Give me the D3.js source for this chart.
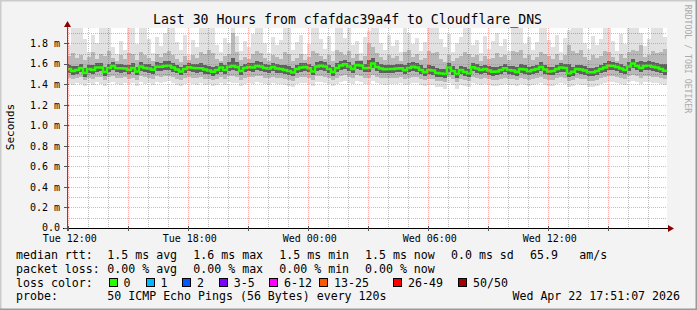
<!DOCTYPE html>
<html><head><meta charset="utf-8">
<script src="https://cdn.jsdelivr.net/npm/d3@7"></script>
<style>
body{margin:0;background:#f3f3f3}
svg{display:block}
text{font-family:"DejaVu Sans Mono",monospace;fill:#000}
</style>
</head><body>
<svg id="c" width="697" height="310"></svg>
<script>
// ---------------- data ----------------
const titleText = "Last 30 Hours from cfafdac39a4f to Cloudflare_DNS";
const yAxisTitle = "Seconds";
const watermark = "RRDTOOL / TOBI OETIKER";
const startTime = new Date(2026, 3, 21, 11, 56, 6);
const endTime = new Date(2026, 3, 22, 17, 56, 6);
const stepMinutes = 12;

const yTickValues = [0, 0.2, 0.4, 0.6, 0.8, 1.0, 1.2, 1.4, 1.6, 1.8];
const yTickLabels = ["0.0", "0.2 m", "0.4 m", "0.6 m", "0.8 m", "1.0 m", "1.2 m", "1.4 m", "1.6 m", "1.8 m"];

// median rtt (ms), one value per 12-minute step
const medianMs = [
1.550,1.531,1.541,1.560,1.511,1.550,1.541,1.565,1.565,1.521,
1.560,1.580,1.557,1.557,1.555,1.541,1.560,1.526,1.575,1.560,
1.555,1.543,1.573,1.573,1.580,1.582,1.565,1.545,1.526,1.550,
1.567,1.560,1.557,1.557,1.545,1.536,1.524,1.541,1.565,1.541,
1.573,1.580,1.570,1.531,1.560,1.570,1.565,1.580,1.575,1.560,
1.555,1.570,1.555,1.550,1.541,1.531,1.516,1.550,1.565,1.570,
1.557,1.526,1.575,1.582,1.575,1.550,1.521,1.560,1.584,1.596,
1.575,1.550,1.589,1.584,1.557,1.560,1.604,1.570,1.555,1.547,
1.550,1.550,1.555,1.557,1.538,1.560,1.573,1.565,1.541,1.518,
1.541,1.536,1.511,1.506,1.502,1.565,1.531,1.502,1.541,1.521,
1.506,1.567,1.555,1.541,1.550,1.536,1.524,1.526,1.541,1.557,
1.541,1.536,1.521,1.550,1.545,1.528,1.541,1.550,1.570,1.545,
1.526,1.531,1.550,1.565,1.560,1.506,1.524,1.550,1.545,1.536,
1.518,1.518,1.531,1.550,1.565,1.582,1.580,1.570,1.555,1.541,
1.575,1.604,1.580,1.560,1.580,1.582,1.573,1.565,1.550,1.534];

// smoke: ping distribution per step (ms)
const smokeMax = [
1.78,2.0,1.97,2.0,1.84,1.72,1.88,1.80,2.0,1.96,2.0,1.76,1.70,1.82,1.74,2.0,1.98,1.79,2.0,1.96,
1.84,1.71,1.86,1.77,1.90,2.0,1.97,1.81,1.74,1.88,1.69,1.83,1.76,2.0,1.96,2.0,1.98,1.78,1.72,1.85,
1.80,2.0,1.87,1.73,1.82,1.76,1.89,2.0,1.97,1.80,1.71,1.86,1.78,1.83,2.0,1.96,1.74,1.81,1.88,1.70,
1.79,2.0,1.98,1.84,1.75,1.87,1.73,2.0,1.97,1.85,2.0,1.78,1.82,1.71,1.86,1.92,2.0,1.98,1.80,1.74,
1.88,1.77,1.83,1.72,2.0,1.90,1.79,1.85,1.73,1.81,2.0,1.97,2.0,1.84,1.76,1.89,1.72,1.80,1.86,2.0,
1.96,1.78,1.83,1.71,1.87,1.75,1.82,1.90,1.77,1.84,1.73,2.0,1.98,2.0,1.79,1.86,1.74,1.81,2.0,1.97,
1.83,1.76,1.88,1.72,1.85,1.93,2.0,1.97,2.0,1.80,1.75,1.87,1.78,1.84,2.0,1.96,1.82,1.73,1.89,1.79,
2.0,1.98,2.0,1.90,1.77,1.84,2.0,1.97,1.99,1.86];
const smokeP90 = [
1.68,1.71,1.66,1.69,1.64,1.67,1.72,1.65,1.70,1.68,1.73,1.66,1.63,1.69,1.65,1.71,1.70,1.64,1.72,1.69,
1.66,1.63,1.70,1.67,1.71,1.73,1.69,1.65,1.62,1.68,1.64,1.69,1.66,1.72,1.70,1.74,1.71,1.65,1.63,1.68,
1.70,1.90,1.72,1.64,1.67,1.65,1.70,1.73,1.71,1.66,1.63,1.69,1.67,1.65,1.72,1.70,1.63,1.66,1.70,1.64,
1.67,1.73,1.71,1.68,1.65,1.69,1.63,1.74,1.72,1.69,1.73,1.66,1.70,1.64,1.68,1.80,1.76,1.71,1.67,1.64,
1.69,1.66,1.68,1.63,1.72,1.74,1.67,1.70,1.64,1.66,1.73,1.71,1.72,1.65,1.62,1.69,1.63,1.66,1.68,1.72,
1.70,1.67,1.69,1.63,1.68,1.65,1.66,1.71,1.67,1.69,1.64,1.73,1.72,1.74,1.66,1.69,1.64,1.67,1.72,1.70,
1.68,1.65,1.70,1.64,1.69,1.78,1.73,1.71,1.74,1.67,1.64,1.69,1.66,1.68,1.73,1.72,1.67,1.63,1.70,1.66,
1.72,1.74,1.73,1.78,1.67,1.69,1.73,1.71,1.72,1.75];
const smokeP75 = [
1.59,1.58,1.58,1.60,1.56,1.59,1.59,1.61,1.61,1.57,1.60,1.62,1.60,1.60,1.59,1.59,1.61,1.57,1.62,1.60,
1.60,1.58,1.62,1.61,1.63,1.63,1.61,1.59,1.57,1.59,1.61,1.60,1.60,1.61,1.59,1.58,1.57,1.58,1.61,1.59,
1.62,1.66,1.62,1.58,1.60,1.61,1.61,1.63,1.62,1.60,1.59,1.61,1.60,1.59,1.59,1.58,1.56,1.59,1.61,1.61,
1.60,1.58,1.62,1.63,1.62,1.59,1.57,1.61,1.63,1.64,1.62,1.59,1.63,1.63,1.60,1.64,1.66,1.62,1.60,1.59,
1.59,1.59,1.60,1.60,1.59,1.61,1.62,1.61,1.59,1.56,1.59,1.58,1.56,1.55,1.55,1.61,1.58,1.55,1.58,1.57,
1.55,1.61,1.60,1.58,1.59,1.58,1.57,1.57,1.58,1.60,1.58,1.58,1.57,1.60,1.59,1.57,1.58,1.59,1.62,1.59,
1.57,1.57,1.59,1.61,1.60,1.60,1.57,1.59,1.59,1.58,1.56,1.56,1.57,1.59,1.61,1.63,1.62,1.61,1.60,1.58,
1.62,1.65,1.62,1.63,1.62,1.63,1.62,1.61,1.60,1.60];
const smokeP25 = [
1.51,1.49,1.50,1.52,1.47,1.51,1.50,1.52,1.53,1.48,1.52,1.54,1.52,1.51,1.52,1.50,1.52,1.49,1.53,1.52,
1.51,1.50,1.53,1.53,1.54,1.54,1.52,1.51,1.49,1.51,1.53,1.52,1.51,1.52,1.50,1.50,1.48,1.50,1.52,1.50,
1.53,1.54,1.53,1.49,1.52,1.53,1.52,1.54,1.53,1.52,1.51,1.53,1.51,1.51,1.50,1.49,1.48,1.51,1.52,1.53,
1.52,1.49,1.53,1.54,1.53,1.51,1.48,1.52,1.54,1.55,1.53,1.51,1.55,1.54,1.52,1.52,1.56,1.53,1.51,1.51,
1.51,1.51,1.52,1.52,1.50,1.52,1.53,1.52,1.50,1.48,1.50,1.49,1.47,1.47,1.46,1.52,1.49,1.46,1.50,1.48,
1.47,1.53,1.51,1.50,1.51,1.49,1.48,1.49,1.50,1.52,1.50,1.49,1.48,1.51,1.50,1.49,1.50,1.51,1.53,1.50,
1.49,1.49,1.51,1.52,1.52,1.47,1.48,1.51,1.50,1.49,1.48,1.48,1.49,1.51,1.52,1.54,1.54,1.53,1.51,1.50,
1.53,1.56,1.54,1.52,1.54,1.54,1.53,1.52,1.51,1.49];
const smokeP10 = [
1.46,1.45,1.46,1.47,1.44,1.46,1.45,1.47,1.47,1.44,1.47,1.48,1.46,1.46,1.47,1.45,1.46,1.44,1.48,1.47,
1.46,1.45,1.48,1.47,1.48,1.48,1.47,1.45,1.44,1.46,1.47,1.46,1.46,1.47,1.45,1.45,1.44,1.45,1.47,1.45,
1.48,1.48,1.47,1.44,1.46,1.47,1.47,1.48,1.48,1.46,1.46,1.47,1.46,1.46,1.45,1.44,1.43,1.46,1.47,1.47,
1.46,1.44,1.48,1.48,1.47,1.46,1.44,1.46,1.48,1.49,1.47,1.46,1.49,1.48,1.46,1.46,1.49,1.47,1.46,1.46,
1.46,1.46,1.46,1.47,1.45,1.46,1.47,1.47,1.45,1.44,1.45,1.45,1.43,1.43,1.42,1.47,1.45,1.42,1.45,1.44,
1.43,1.47,1.46,1.45,1.46,1.45,1.44,1.44,1.45,1.46,1.45,1.45,1.44,1.46,1.45,1.44,1.45,1.46,1.47,1.45,
1.44,1.44,1.46,1.47,1.46,1.43,1.44,1.46,1.45,1.45,1.43,1.43,1.44,1.46,1.47,1.48,1.48,1.47,1.46,1.45,
1.48,1.49,1.48,1.46,1.48,1.48,1.47,1.47,1.46,1.45];
const smokeMin = [
1.40,1.39,1.41,1.40,1.38,1.41,1.39,1.42,1.40,1.38,1.41,1.42,1.40,1.39,1.41,1.40,1.41,1.38,1.42,1.40,
1.41,1.39,1.42,1.41,1.42,1.43,1.41,1.39,1.38,1.40,1.41,1.40,1.39,1.41,1.39,1.40,1.38,1.39,1.41,1.39,
1.42,1.41,1.41,1.38,1.40,1.41,1.40,1.42,1.41,1.40,1.39,1.41,1.40,1.40,1.39,1.38,1.37,1.40,1.41,1.41,
1.40,1.38,1.42,1.42,1.41,1.40,1.38,1.40,1.42,1.43,1.41,1.40,1.43,1.42,1.40,1.40,1.43,1.41,1.40,1.39,
1.40,1.40,1.40,1.41,1.39,1.40,1.41,1.41,1.39,1.38,1.39,1.39,1.37,1.37,1.36,1.41,1.39,1.36,1.39,1.38,
1.37,1.41,1.40,1.39,1.40,1.39,1.38,1.38,1.39,1.40,1.39,1.39,1.38,1.40,1.39,1.38,1.39,1.40,1.41,1.39,
1.38,1.38,1.40,1.41,1.40,1.37,1.38,1.40,1.39,1.39,1.37,1.37,1.38,1.40,1.41,1.42,1.42,1.41,1.40,1.39,
1.42,1.43,1.42,1.40,1.42,1.42,1.41,1.41,1.40,1.39];

// legend
const rttLabel = "median rtt:";
const rttStats = ["1.5 ms avg", "1.6 ms max", "1.5 ms min", "1.5 ms now", "0.0 ms sd", "65.9", "am/s"];
const lossLabel = "packet loss:";
const lossStats = ["0.00 % avg", "0.00 % max", "0.00 % min", "0.00 % now"];
const lossColorLabel = "loss color:";
const lossColorNames = ["0", "1", "2", "3-5", "6-12", "13-25", "26-49", "50/50"];
const lossColors = ["#26ff00", "#00b8ff", "#0059ff", "#7e00ff", "#ff00ff", "#ff5500", "#ff0000", "#a00000"];
const probeLabel = "probe:";
const probeText = "50 ICMP Echo Pings (56 Bytes) every 120s";
const dateText = "Wed Apr 22 17:51:07 2026";

// ---------------- drawing ----------------
const svg = d3.select("#c");
const W = 697, H = 310;
const L = 67, R = 667, T = 28, B = 228;

svg.append("rect").attr("width", W).attr("height", H).attr("fill", "#f3f3f3");
// 3D frame
svg.append("path").attr("d", `M0,${H} V0 H${W}`).attr("stroke", "#cbcbcb").attr("stroke-width", 3).attr("fill", "none");
svg.append("path").attr("d", `M${W},0 V${H} H0`).attr("stroke", "#9a9a9a").attr("stroke-width", 3).attr("fill", "none");

svg.append("rect").attr("x", L).attr("y", T).attr("width", R - L).attr("height", B - T).attr("fill", "#fff");

const x = d3.scaleTime().domain([startTime, endTime]).range([L, R]);
const y = d3.scaleLinear().domain([0, 1.95]).range([B, T]);

const rows = medianMs.map((m, i) => ({
  t: d3.timeMinute.offset(startTime, i * stepMinutes),
  med: m, min: smokeMin[i], p10: smokeP10[i], p25: smokeP25[i],
  p75: smokeP75[i], p90: smokeP90[i], max: smokeMax[i]
}));
rows.push(Object.assign({}, rows[rows.length - 1], {t: endTime}));

svg.append("clipPath").attr("id", "pc").append("rect")
  .attr("x", L).attr("y", T).attr("width", R - L).attr("height", B - T);
const plot = svg.append("g").attr("clip-path", "url(#pc)");

const band = (lo, hi, color) => {
  plot.append("path").datum(rows)
    .attr("fill", color)
    .attr("shape-rendering", "crispEdges")
    .attr("d", d3.area().curve(d3.curveStepAfter)
      .x(d => x(d.t)).y0(d => y(d[lo])).y1(d => y(d[hi])));
};
band("min", "max", "#e1e1e1");
band("p10", "p90", "#b8b8b8");
band("p25", "p75", "#606060");

// grid
const grid = svg.append("g").attr("shape-rendering", "crispEdges");
const minorY = d3.range(1, 20).map(i => i / 10).filter(v => Math.round(v * 10) % 2 === 1);
minorY.forEach(v => {
  const yy = Math.round(y(v)) + 0.5;
  grid.append("line").attr("x1", L).attr("x2", R).attr("y1", yy).attr("y2", yy)
    .attr("stroke", "rgba(95,95,95,0.42)").attr("stroke-dasharray", "1,1");
});
const hours = d3.timeHour.range(startTime, endTime);
hours.filter(h => h.getHours() % 3 !== 0).forEach(h => {
  const xx = Math.round(x(h)) + 0.5;
  grid.append("line").attr("x1", xx).attr("x2", xx).attr("y1", T).attr("y2", B)
    .attr("stroke", "rgba(95,95,95,0.42)").attr("stroke-dasharray", "1,1");
});
yTickValues.filter(v => v > 0).forEach(v => {
  const yy = Math.round(y(v)) + 0.5;
  grid.append("line").attr("x1", L).attr("x2", R).attr("y1", yy).attr("y2", yy)
    .attr("stroke", "rgba(255,95,95,0.55)").attr("stroke-dasharray", "1,1");
});
const majorHours = hours.filter(h => h.getHours() % 3 === 0);
majorHours.forEach(h => {
  const xx = Math.round(x(h)) + 0.5;
  grid.append("line").attr("x1", xx).attr("x2", xx).attr("y1", T).attr("y2", B)
    .attr("stroke", "rgba(255,95,95,0.55)").attr("stroke-dasharray", "1,1");
});

// median line
plot.append("path").datum(rows)
  .attr("fill", "none").attr("stroke", lossColors[0]).attr("stroke-width", 2.5)
  .attr("d", d3.line().curve(d3.curveStepAfter).x(d => x(d.t)).y(d => y(d.med)));

// axes
const ax = svg.append("g").attr("shape-rendering", "crispEdges");
ax.append("line").attr("x1", L - 4).attr("x2", R + 2).attr("y1", B + 0.5).attr("y2", B + 0.5).attr("stroke", "#000");
ax.append("line").attr("x1", L + 0.5).attr("x2", L + 0.5).attr("y1", B + 3).attr("y2", T - 3).attr("stroke", "#555");
yTickValues.forEach(v => {
  const yy = Math.round(y(v)) + 0.5;
  ax.append("line").attr("x1", L - 3).attr("x2", L + 2).attr("y1", yy).attr("y2", yy).attr("stroke", "#555");
});
majorHours.forEach(h => {
  const xx = Math.round(x(h)) + 0.5;
  ax.append("line").attr("x1", xx).attr("x2", xx).attr("y1", B - 2).attr("y2", B + 3).attr("stroke", "#555");
});
svg.append("path").attr("d", `M${L + 0.5},21 L${L - 3},27 L${L + 4},27 Z`).attr("fill", "#8b0000");
svg.append("path").attr("d", `M674,${B + 0.5} L668,${B - 3} L668,${B + 4} Z`).attr("fill", "#8b0000");

// y labels
yTickValues.forEach((v, i) => {
  svg.append("text").attr("x", 60).attr("y", Math.min(y(v) + 3.6, 231)).attr("text-anchor", "end")
    .attr("font-size", "10px").text(yTickLabels[i]);
});
// x labels
const fmt = d3.timeFormat("%a %H:%M");
hours.filter(h => h.getHours() % 6 === 0).forEach(h => {
  svg.append("text").attr("x", x(h) + 1.5).attr("y", 241.5).attr("text-anchor", "middle")
    .attr("font-size", "10px").text(fmt(h));
});

// title
svg.append("text").attr("x", 347.5).attr("y", 24).attr("text-anchor", "middle")
  .attr("font-size", "13.2px").text(titleText);
svg.append("text").attr("transform", "translate(14,127) rotate(-90)").attr("text-anchor", "middle")
  .attr("font-size", "11px").text(yAxisTitle);
svg.append("text").attr("transform", "translate(685,59) rotate(90)").attr("text-anchor", "middle")
  .attr("font-size", "8.2px").style("fill", "#aaaaaa").text(watermark);

// legend
const lf = "11.6px";
const colX = [107.3, 193.3, 279.3, 365, 451, 530, 579.3];
const rowY = [258.5, 272.5, 286.5, 300.3];
const lg = svg.append("g").attr("font-size", lf);
lg.append("text").attr("x", 16).attr("y", rowY[0]).text(rttLabel);
rttStats.forEach((s, i) => lg.append("text").attr("x", colX[i]).attr("y", rowY[0]).text(s));
lg.append("text").attr("x", 16).attr("y", rowY[1]).text(lossLabel);
lossStats.forEach((s, i) => lg.append("text").attr("x", colX[i]).attr("y", rowY[1]).text(s));
lg.append("text").attr("x", 16).attr("y", rowY[2]).text(lossColorLabel);
const boxX = [108.7, 145.7, 182.3, 219, 269.3, 319.3, 393.3, 458.3];
lossColorNames.forEach((n, i) => {
  lg.append("rect").attr("x", Math.round(boxX[i]) + 0.5).attr("y", 278.5).attr("width", 8).attr("height", 8)
    .attr("fill", lossColors[i]).attr("stroke", "#000").attr("stroke-width", 1);
  lg.append("text").attr("x", boxX[i] + 14.7).attr("y", rowY[2]).text(n);
});
lg.append("text").attr("x", 16).attr("y", rowY[3]).text(probeLabel);
lg.append("text").attr("x", colX[0]).attr("y", rowY[3]).text(probeText);
lg.append("text").attr("x", 680).attr("y", rowY[3]).attr("text-anchor", "end").text(dateText);
</script>
</body></html>
